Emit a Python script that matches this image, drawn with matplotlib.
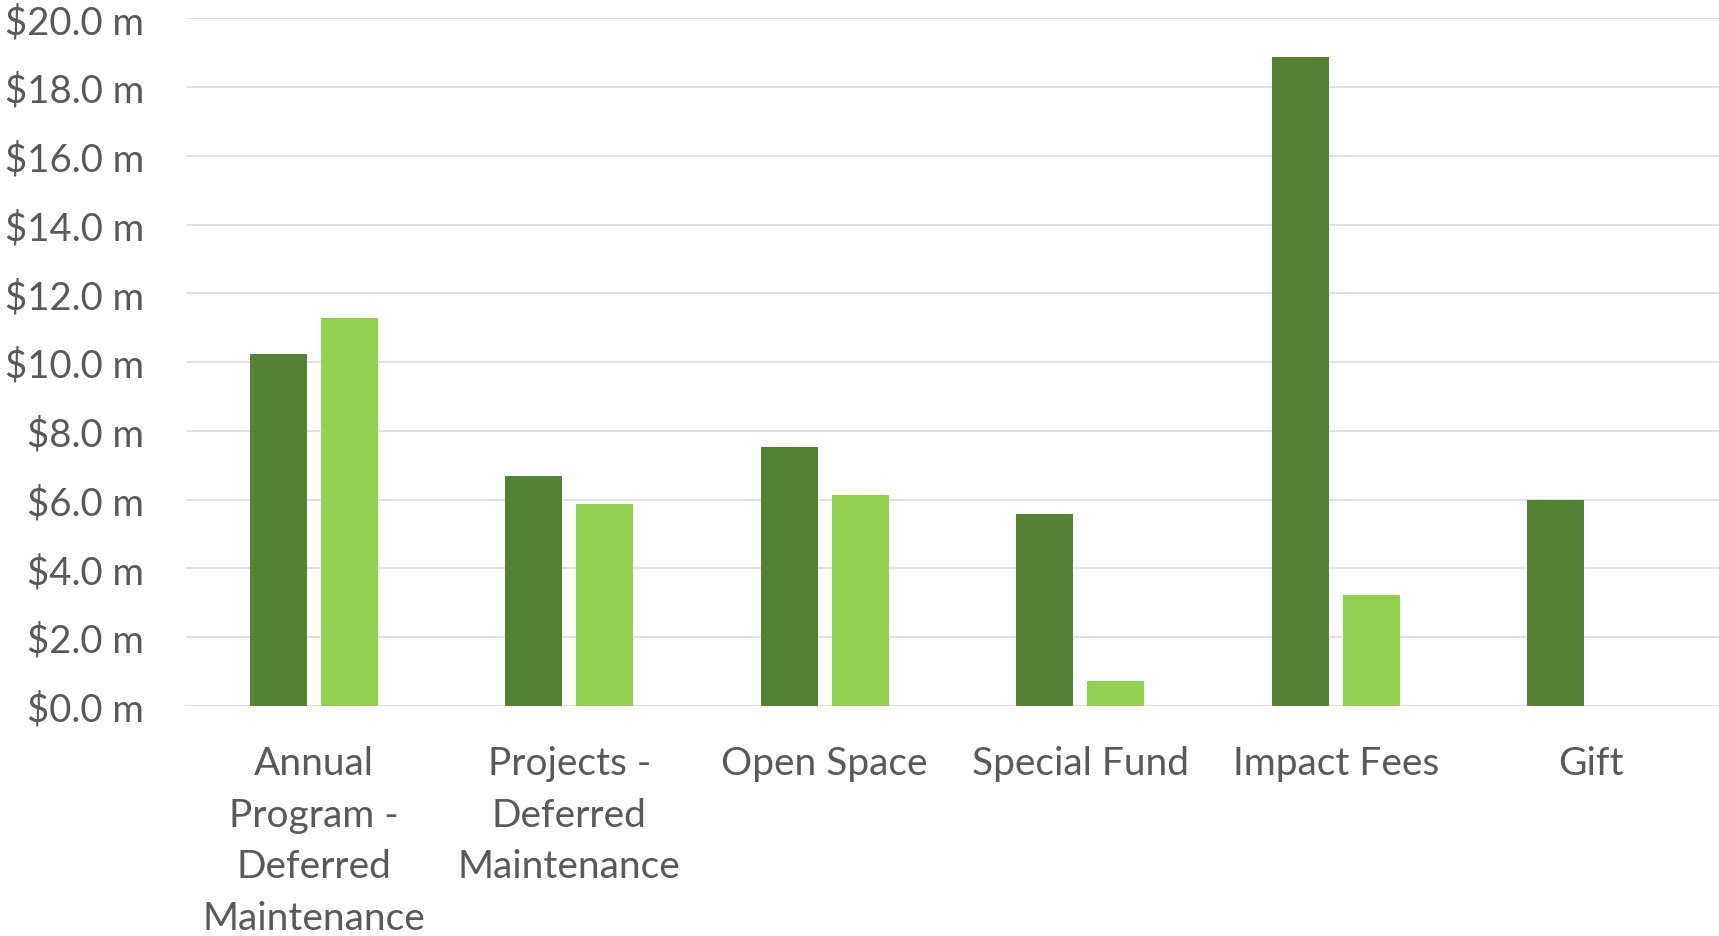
import numpy as np
import matplotlib
matplotlib.use("Agg")
import matplotlib.pyplot as plt
from matplotlib.ticker import FuncFormatter, MultipleLocator

# ===============================
# DATA (values in $ millions)
# ===============================
categories = [
    "Annual\nProgram -\nDeferred\nMaintenance",
    "Projects -\nDeferred\nMaintenance",
    "Open Space",
    "Special Fund",
    "Impact Fees",
    "Gift",
]
series_a = [10.25, 6.68, 7.54, 5.57, 18.87, 5.99]
series_b = [11.29, 5.86, 6.13, 0.72, 3.23, 0.0]

DARK = "#548235"
LIGHT = "#92D050"
TEXT = "#595959"
GRID = "#D9D9D9"

plt.rcParams["font.family"] = ["Lato", "DejaVu Sans"]

# ===============================
# FIGURE
# ===============================
fig = plt.figure(figsize=(17.19, 9.37), dpi=100)
ax = fig.add_axes([0.1082, 0.2455, 0.8918, 0.7339])

x = np.arange(len(categories))
w = 0.223
off = 0.139

ax.bar(x - off, series_a, width=w, color=DARK, zorder=3)
ax.bar(x + off, series_b, width=w, color=LIGHT, zorder=3)

ax.set_xlim(-0.5, len(categories) - 0.5)
ax.set_ylim(0, 20)
ax.yaxis.set_major_locator(MultipleLocator(2))
ax.yaxis.set_major_formatter(FuncFormatter(lambda v, p: f"${v:.1f} m"))

ax.grid(axis="y", color=GRID, linewidth=1.1, zorder=0)
ax.set_axisbelow(True)
for s in ax.spines.values():
    s.set_visible(False)

ax.set_xticks(x)
ax.set_xticklabels(categories, linespacing=1.54)
ax.tick_params(axis="both", length=0, colors=TEXT)
ax.tick_params(axis="y", pad=30, labelsize=27.5)
ax.tick_params(axis="x", pad=28, labelsize=28)

fig.savefig("out.png", dpi=100, facecolor="white")
plt.close(fig)
